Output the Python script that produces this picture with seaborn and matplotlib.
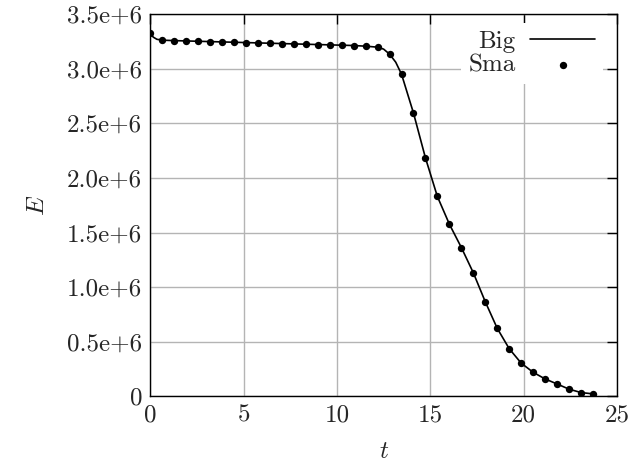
import matplotlib
matplotlib.use("Agg")
import matplotlib.pyplot as plt
import seaborn as sns
import pandas as pd
from matplotlib.ticker import FixedLocator, FixedFormatter

# ---- data ----
sma_t = [0.00, 0.64, 1.28, 1.92, 2.56, 3.21, 3.85, 4.49, 5.13, 5.77,
         6.41, 7.05, 7.69, 8.33, 8.97, 9.62, 10.26, 10.90, 11.54, 12.18,
         12.82, 13.46, 14.10, 14.74, 15.38, 16.03, 16.67, 17.31, 17.95, 18.59,
         19.23, 19.87, 20.51, 21.15, 21.79, 22.44, 23.08, 23.72]
sma_E = [3.332e6, 3.262e6, 3.258e6, 3.255e6, 3.252e6, 3.249e6, 3.246e6, 3.243e6,
         3.240e6, 3.237e6, 3.234e6, 3.231e6, 3.228e6, 3.225e6, 3.222e6, 3.219e6,
         3.216e6, 3.213e6, 3.207e6, 3.198e6, 3.134e6, 2.950e6, 2.595e6, 2.185e6,
         1.831e6, 1.575e6, 1.362e6, 1.131e6, 0.866e6, 0.623e6, 0.437e6, 0.305e6,
         0.221e6, 0.160e6, 0.114e6, 0.066e6, 0.035e6, 0.023e6]

big_t = [0.00, 0.15, 0.35, 0.64, 1.28, 1.92, 2.56, 3.21, 3.85, 4.49, 5.13, 5.77,
         6.41, 7.05, 7.69, 8.33, 8.97, 9.62, 10.26, 10.90, 11.54, 12.18,
         12.50, 12.82, 13.15, 13.46, 14.10, 14.74, 15.38, 16.03, 16.67, 17.31,
         17.95, 18.59, 19.23, 19.87, 20.51, 21.15, 21.79, 22.44, 23.08, 23.72, 23.90]
big_E = [3.332e6, 3.290e6, 3.270e6, 3.262e6, 3.258e6, 3.255e6, 3.252e6, 3.249e6,
         3.246e6, 3.243e6, 3.240e6, 3.237e6, 3.234e6, 3.231e6, 3.228e6, 3.225e6,
         3.222e6, 3.219e6, 3.216e6, 3.213e6, 3.207e6, 3.198e6, 3.180e6, 3.134e6,
         3.060e6, 2.950e6, 2.595e6, 2.185e6, 1.831e6, 1.575e6, 1.362e6, 1.131e6,
         0.866e6, 0.623e6, 0.437e6, 0.305e6, 0.221e6, 0.160e6, 0.114e6, 0.066e6,
         0.035e6, 0.023e6, 0.018e6]

x_ticks = [0, 5, 10, 15, 20, 25]
x_labels = ["0", "5", "10", "15", "20", "25"]
y_ticks = [0, 0.5e6, 1.0e6, 1.5e6, 2.0e6, 2.5e6, 3.0e6, 3.5e6]
y_labels = ["0", "0.5e+6", "1.0e+6", "1.5e+6", "2.0e+6", "2.5e+6", "3.0e+6", "3.5e+6"]

big = pd.DataFrame({"t": big_t, "E": big_E})
sma = pd.DataFrame({"t": sma_t, "E": sma_E})

# ---- style ----
sns.set_style("white")
plt.rcParams["font.family"] = ["cmr10", "DejaVu Serif"]
plt.rcParams["mathtext.fontset"] = "cm"
plt.rcParams["axes.formatter.use_mathtext"] = True
plt.rcParams["axes.unicode_minus"] = False

FS = 18.0

fig = plt.figure(figsize=(6.32, 4.73), dpi=100)
ax = fig.add_axes([0.238, 0.162, 0.738, 0.808])

sns.lineplot(data=big, x="t", y="E", ax=ax, color="black", lw=1.2, label="Big",
             sort=False, zorder=3)
sns.scatterplot(data=sma, x="t", y="E", ax=ax, color="black", s=28, linewidth=0,
                label="Sma", zorder=4)

ax.set_xlim(0, 25)
ax.set_ylim(0, 3.5e6)
ax.xaxis.set_major_locator(FixedLocator(x_ticks))
ax.xaxis.set_major_formatter(FixedFormatter(x_labels))
ax.yaxis.set_major_locator(FixedLocator(y_ticks))
ax.yaxis.set_major_formatter(FixedFormatter(y_labels))

ax.grid(True, color="#b4b4b4", lw=1.0)
ax.set_axisbelow(True)
for s in ax.spines.values():
    s.set_color("black")
    s.set_linewidth(1.0)
    s.set_zorder(5)
ax.tick_params(direction="in", length=7, width=1.0, color="black",
               top=True, right=True, labelsize=FS, pad=6)

ax.set_xlabel("$t$", fontsize=FS, labelpad=10)
ax.set_ylabel("$E$", fontsize=FS, labelpad=13)

leg = ax.legend(loc="upper right", markerfirst=False, frameon=True,
                fontsize=FS, handlelength=2.6, handletextpad=0.6,
                bbox_to_anchor=(0.981, 0.99),
                borderaxespad=0.2, labelspacing=0.05, borderpad=0.3)
leg.get_frame().set_facecolor("white")
leg.get_frame().set_edgecolor("none")
leg.get_frame().set_alpha(1)
for t in leg.get_texts():
    t.set_ha("right")
leg.set_zorder(6)

fig.savefig("out.png", dpi=100)
